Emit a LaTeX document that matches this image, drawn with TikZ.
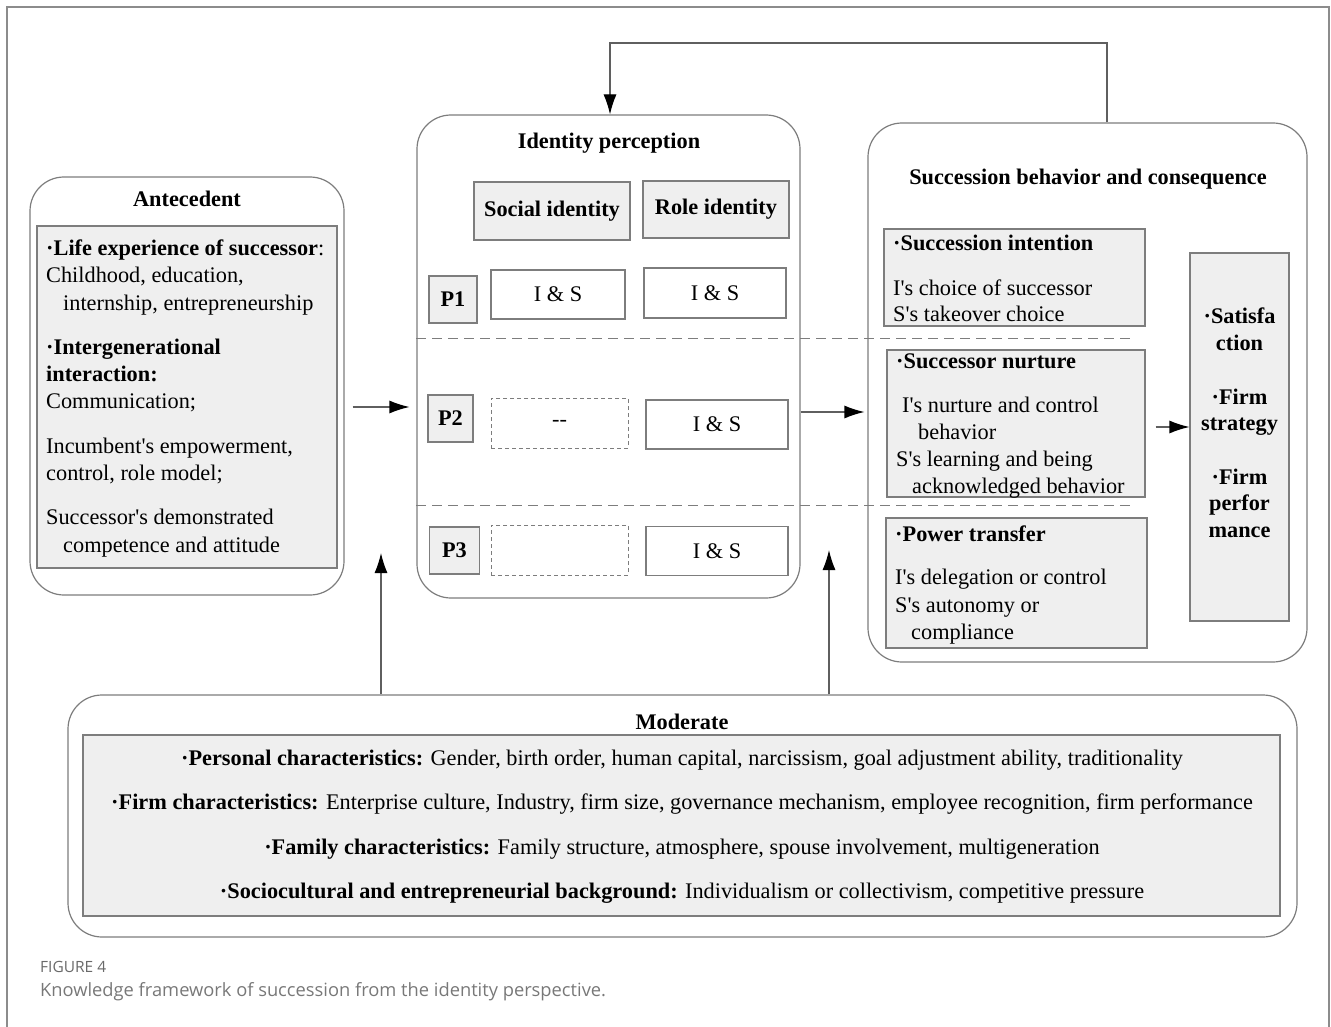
\documentclass[tikz,border=0pt]{standalone}
\usepackage{fontspec}
\setmainfont{Liberation Serif}
\newfontfamily\capfont{Open Sans}
\usetikzlibrary{arrows.meta}
\definecolor{bordc}{RGB}{125,125,125}
\definecolor{fillc}{RGB}{239,239,239}
\definecolor{linec}{RGB}{95,95,95}
\definecolor{framec}{RGB}{140,140,140}
\definecolor{capc}{RGB}{120,120,120}
\definecolor{figc}{RGB}{105,105,105}
\newcommand{\fs}{\fontsize{22.3}{27}\selectfont}
\newcommand{\ap}{\textquotesingle}
\tikzset{
  rbox/.style={draw=bordc, line width=1.2pt, rounded corners=34pt, inner sep=0pt, fill=white},
  gbox/.style={draw=bordc, line width=1.2pt, fill=fillc, inner sep=0pt},
  wbox/.style={draw=bordc, line width=1.2pt, fill=white, inner sep=0pt},
  dbox/.style={draw=bordc, line width=1pt, dash pattern=on 4pt off 3pt, inner sep=0pt},
  arr/.style={draw=linec, line width=1.2pt, -{Latex[length=20pt,width=13pt,black]}},
  txt/.style={inner sep=0pt, align=left, anchor=north west, font=\fs},
  ctxt/.style={inner sep=0pt, align=center, font=\fs},
  sep/.style={draw=bordc, line width=1pt, dash pattern=on 10pt off 6pt},
}
\begin{document}
\begin{tikzpicture}[x=1pt,y=-1pt]
\useasboundingbox (0,0) rectangle (1331,1027);
\draw[framec, line width=2pt] (7,1027) -- (7,7) -- (1329,7) -- (1329,1027);

% ---------- Antecedent ----------
\node[rbox, minimum width=314pt, minimum height=418pt] (ant) at (187,386) {};
\node[ctxt] (anttitle) at (187,199) {\textbf{Antecedent}};
\node[gbox, minimum width=300pt, minimum height=342pt] (antin) at (187,397) {};
\node[txt, font=\fontsize{22.3}{27.3}\selectfont] (anttxt) at (46,239.5) {\textbf{·Life experience of successor}:\\
Childhood, education,\\
\hspace*{17pt}internship, entrepreneurship\\[17pt]
\textbf{·Intergenerational}\\
\textbf{interaction:}\\
Communication;\\[17pt]
Incumbent\ap s empowerment,\\
control, role model;\\[17pt]
Successor\ap s demonstrated\\
\hspace*{17pt}competence and attitude};

% ---------- Identity perception ----------
\node[rbox, minimum width=383pt, minimum height=483pt] (idbox) at (608.5,356.5) {};
\node[ctxt] (idtitle) at (609,143) {\textbf{Identity perception}};
\node[gbox, minimum width=156pt, minimum height=58pt, font=\fs] (soc) at (552,211) {\textbf{Social identity}};
\node[gbox, minimum width=146pt, minimum height=57pt, font=\fs] (role) at (716,209.5) {\textbf{Role identity}};
\node[gbox, minimum width=48pt, minimum height=47pt, font=\fs] (p1) at (453,299.5) {\textbf{P1}};
\node[gbox, minimum width=45pt, minimum height=47pt, font=\fs] (p2) at (450.5,418.5) {\textbf{P2}};
\node[gbox, minimum width=50pt, minimum height=47pt, font=\fs] (p3) at (454.5,550.5) {\textbf{P3}};
\node[wbox, minimum width=134pt, minimum height=49pt, font=\fs] (a1) at (558,294.5) {I \& S};
\node[wbox, minimum width=142pt, minimum height=50pt, font=\fs] (b1) at (715,293) {I \& S};
\node[dbox, minimum width=137pt, minimum height=50pt, font=\fs] (a2) at (559.5,423) {{-}{-}};
\node[wbox, minimum width=142pt, minimum height=49pt, font=\fs] (b2) at (717,424.5) {I \& S};
\node[dbox, minimum width=137pt, minimum height=50pt, font=\fs] (a3) at (559.5,550) {};
\node[wbox, minimum width=142pt, minimum height=49pt, font=\fs] (b3) at (717,551) {I \& S};

% ---------- Succession ----------
\node[rbox, minimum width=439pt, minimum height=539pt] (succ) at (1087.5,392.5) {};
\node[ctxt] (succtitle) at (1088,179.5) {\textbf{Succession behavior and consequence}};
\node[gbox, minimum width=261pt, minimum height=97pt] (si) at (1014.5,277.5) {};
\node[txt, font=\fontsize{22.3}{26}\selectfont] (sitxt) at (893,234.5) {\textbf{·Succession intention}\\[19pt]
I\ap s choice of successor\\
S\ap s takeover choice};
\node[gbox, minimum width=258pt, minimum height=147pt] (sn) at (1016,423.5) {};
\node[txt, font=\fontsize{22.3}{27}\selectfont] (sntxt) at (896,353.5) {\textbf{·Successor nurture}\\[17pt]
\hspace*{6pt}I\ap s nurture and control\\
\hspace*{22pt}behavior\\
S\ap s learning and being\\
\hspace*{16pt}acknowledged behavior};
\node[gbox, minimum width=261pt, minimum height=130pt] (pt) at (1016.5,583) {};
\node[txt, font=\fontsize{22.3}{27.5}\selectfont] (pttxt) at (895,525.5) {\textbf{·Power transfer}\\[16pt]
I\ap s delegation or control\\
S\ap s autonomy or\\
\hspace*{16pt}compliance};
\node[gbox, minimum width=99pt, minimum height=368pt] (cons) at (1239.5,437) {};
\node[ctxt, font=\fontsize{22.3}{26.6}\selectfont, anchor=north] (constxt) at (1239.5,308) {\textbf{·Satisfa}\\
\textbf{ction}\\[27pt]
\textbf{·Firm}\\
\textbf{strategy}\\[27pt]
\textbf{·Firm}\\
\textbf{perfor}\\
\textbf{mance}};

% ---------- separators ----------
\coordinate (sepend1) at (1130,338);
\coordinate (sepend2) at (1130,505);
\draw[sep] (idbox.west |- sepend1) -- (sepend1);
\draw[sep] (idbox.west |- sepend2) -- (sepend2);

% ---------- Moderate ----------
\node[rbox, minimum width=1229pt, minimum height=242pt] (mod) at (682.5,816) {};
\node[ctxt] (modtitle) at (682,722) {\textbf{Moderate}};
\node[gbox, minimum width=1197pt, minimum height=181pt] (modin) at (681.5,825.5) {};
\node[ctxt] (m1) at (682,760) {\textbf{·Personal characteristics:} Gender, birth order, human capital, narcissism, goal adjustment ability, traditionality};
\node[ctxt] (m2) at (682,804) {\textbf{·Firm characteristics:} Enterprise culture, Industry, firm size, governance mechanism, employee recognition, firm performance};
\node[ctxt] (m3) at (682,849) {\textbf{·Family characteristics:} Family structure, atmosphere, spouse involvement, multigeneration};
\node[ctxt] (m4) at (682,893) {\textbf{·Sociocultural and entrepreneurial background:} Individualism or collectivism, competitive pressure};

% ---------- arrows ----------
\coordinate (yant) at (0,407);
\coordinate (yid) at (0,412);
\coordinate (ycons) at (0,427);
\draw[arr, shorten <=8pt, shorten >=7pt] (ant.east |- yant) -- (idbox.west |- yant);
\draw[arr, shorten >=3pt] (idbox.east |- yid) -- (succ.west |- yid);
\draw[arr, shorten <=10pt] (sn.east |- ycons) -- (cons.west |- ycons);
\coordinate (up1) at (381,553);
\coordinate (up2) at (829,550);
\draw[arr] (mod.north -| up1) -- (up1);
\draw[arr] (mod.north -| up2) -- (up2);
\coordinate (fb1) at (1107,43);
\coordinate (fb2) at (610,43);
\draw[arr] (fb1 |- succ.north) -- (fb1) -- (fb2) -- (fb2 |- idbox.north);

% ---------- caption ----------
\node[inner sep=0pt, anchor=west, text=figc, font=\capfont\fontsize{15.5}{17}\selectfont] (figlab) at (40,967) {FIGURE 4};
\node[inner sep=0pt, anchor=west, text=capc, font=\capfont\fontsize{18.3}{20}\selectfont] (cap) at (40,992) {Knowledge framework of succession from the identity perspective.};
\end{tikzpicture}
\end{document}
